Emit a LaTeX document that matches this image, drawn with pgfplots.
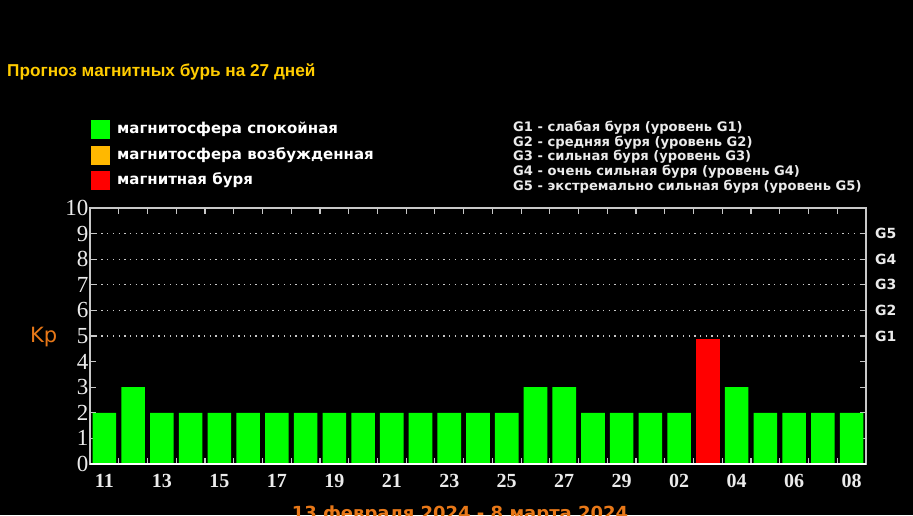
\documentclass[border=0pt]{standalone}
\usepackage{pgfplots}
\pgfplotsset{compat=1.18}
\usepackage{fontspec}
\setmainfont{Liberation Sans}
\newfontfamily\serifn{Liberation Serif}
\newfontfamily\dvs{DejaVu Sans}
\definecolor{kpgreen}{RGB}{0,255,0}
\definecolor{kpred}{RGB}{255,0,0}
\definecolor{kporange}{RGB}{255,184,0}
\definecolor{titley}{RGB}{255,204,0}
\definecolor{kpor}{RGB}{232,120,24}
\definecolor{framec}{RGB}{200,200,200}
\definecolor{txtc}{RGB}{235,235,235}
\begin{document}
\begin{tikzpicture}[x=1pt,y=1pt]
\useasboundingbox (0pt,0pt) rectangle (913pt,515pt);
\fill[black] (0pt,0pt) rectangle (913pt,515pt);
\clip (0pt,0pt) rectangle (913pt,515pt);
\node[anchor=west, text=titley, font=\bfseries\fontsize{17.2}{17.2}\selectfont, inner sep=0] at (7pt,443pt) {Прогноз магнитных бурь на 27 дней};
% legend
\fill[kpgreen] (91pt,395pt) rectangle (110pt,376pt);
\fill[kporange] (91pt,369pt) rectangle (110pt,350pt);
\fill[kpred] (91pt,344pt) rectangle (110pt,325pt);
\begin{scope}[every node/.style={anchor=west, text=white, inner sep=0, font=\dvs\bfseries\fontsize{15}{15}\selectfont}]
\node at (117pt,386pt) {магнитосфера спокойная};
\node at (117pt,360pt) {магнитосфера возбужденная};
\node at (117pt,335pt) {магнитная буря};
\end{scope}
\begin{scope}[every node/.style={anchor=west, text=txtc, inner sep=0, font=\dvs\bfseries\fontsize{13.1}{13.1}\selectfont}]
\node at (513pt,387pt) {G1 - слабая буря (уровень G1)};
\node at (513pt,372pt) {G2 - средняя буря (уровень G2)};
\node at (513pt,358pt) {G3 - сильная буря (уровень G3)};
\node at (513pt,343pt) {G4 - очень сильная буря (уровень G4)};
\node at (513pt,328pt) {G5 - экстремально сильная буря (уровень G5)};
\end{scope}
\node[anchor=base west, text=kpor, inner sep=0, font=\dvs\fontsize{21}{21}\selectfont] at (30pt,173pt) {Kp};
\node[anchor=base, text=kpor, inner sep=0, font=\dvs\bfseries\fontsize{18}{18}\selectfont] at (460pt,-4pt) {13 февраля 2024 - 8 марта 2024};
\begin{axis}[at={(90pt,51pt)}, anchor=south west, scale only axis,
  width=776pt, height=256pt,
  xmin=0, xmax=27, ymin=0, ymax=10,
  axis line style={framec, line width=1.5pt},
  xtick={0,1,...,27}, xticklabels={},
  extra x ticks={0.5,2.5,...,26.5},
  extra x tick labels={11,13,15,17,19,21,23,25,27,29,02,04,06,08},
  extra x tick style={major tick length=0pt},
  ytick={0,1,...,10},
  extra y ticks={5,6,7,8,9}, extra y tick labels={},
  extra y tick style={grid=major},
  major grid style={draw=framec, line width=1.3pt, dash pattern=on 1.3pt off 4.4pt},
  tick style={framec, line width=1.2pt},
  major tick length=6pt,
  xticklabel style={font=\serifn\bfseries\fontsize{20}{20}\selectfont, text=txtc, yshift=-7pt},
  yticklabel style={font=\serifn\fontsize{23}{23}\selectfont, text=txtc, inner sep=1.5pt},
  /pgf/number format/assume math mode=true,
  clip=false,
]
\addplot[ybar, bar width=0.82, fill=kpgreen, draw=none] coordinates {
 (0.5,2)(1.5,3)(2.5,2)(3.5,2)(4.5,2)(5.5,2)(6.5,2)(7.5,2)(8.5,2)(9.5,2)
 (10.5,2)(11.5,2)(12.5,2)(13.5,2)(14.5,2)(15.5,3)(16.5,3)(17.5,2)(18.5,2)
 (19.5,2)(20.5,2)(22.5,3)(23.5,2)(24.5,2)(25.5,2)(26.5,2)};
\addplot[ybar, bar width=0.82, fill=kpred, draw=none] coordinates {(21.5,4.9)};
\draw[white, line width=2pt] (rel axis cs:0,0) -- (rel axis cs:1,0);
\begin{scope}[every node/.style={anchor=west, text=txtc, inner sep=0, xshift=9pt, font=\dvs\bfseries\fontsize{14}{14}\selectfont}]
\node at (axis cs:27,5) {G1};
\node at (axis cs:27,6) {G2};
\node at (axis cs:27,7) {G3};
\node at (axis cs:27,8) {G4};
\node at (axis cs:27,9) {G5};
\end{scope}
\end{axis}
\end{tikzpicture}
\end{document}
